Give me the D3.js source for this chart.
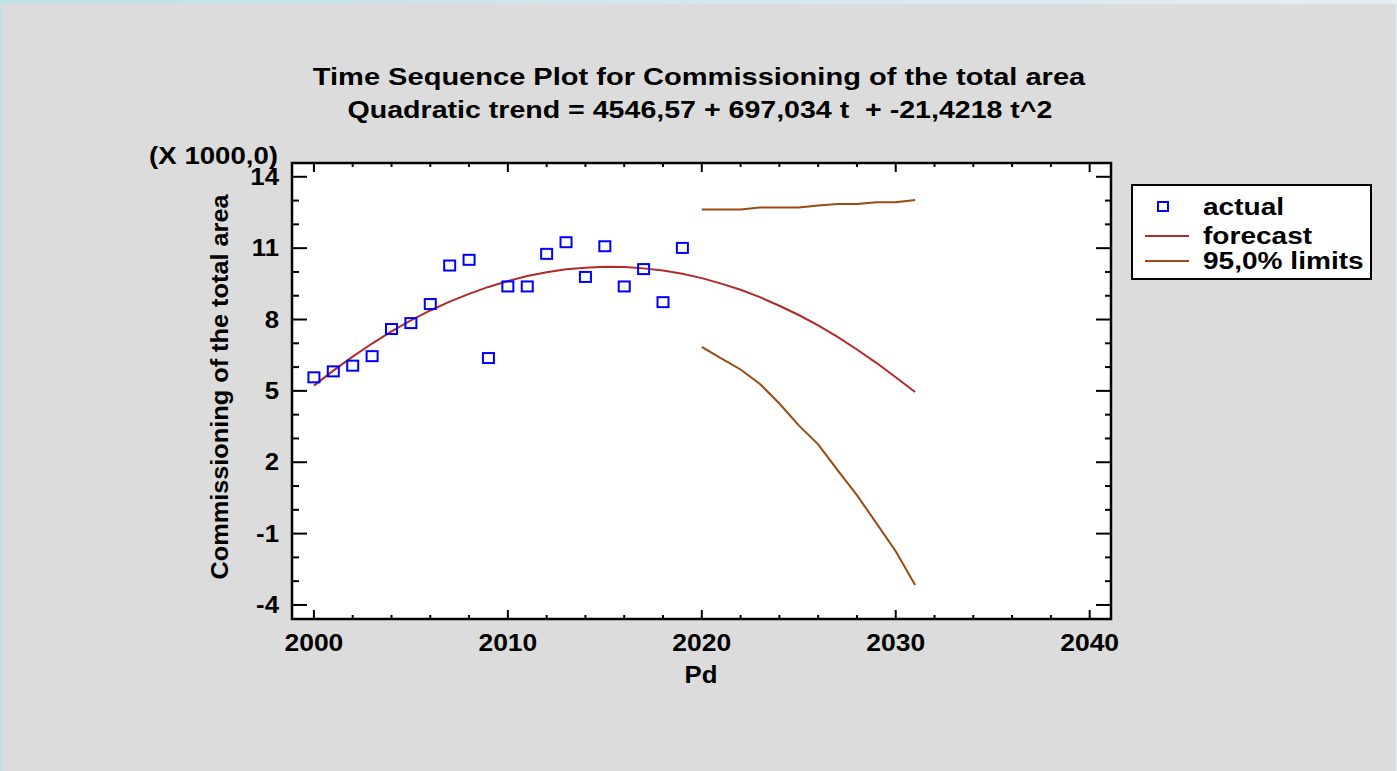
<!DOCTYPE html>
<html>
<head>
<meta charset="utf-8">
<script src="https://cdn.jsdelivr.net/npm/d3@7"></script>
<style>
    html, body { margin: 0; padding: 0; background: #dcdcdc; }
    svg { display: block; font-family: "Liberation Sans", Arial, sans-serif; font-weight: bold; }
</style>
</head>
<body>
<div id="chart"></div>
<script>
// values in thousands (X 1000,0)
const actualYears = d3.range(2000, 2020);
const actualValues = [5.57, 5.82, 6.06, 6.46, 7.60, 7.85, 8.65, 10.27, 10.51, 6.38,
                      9.39, 9.39, 10.76, 11.25, 9.79, 11.08, 9.39, 10.12, 8.73, 11.01];

const forecastYears = d3.range(2000, 2032);
const forecastValues = [5.22, 5.85, 6.44, 6.99, 7.50, 7.96, 8.38, 8.75, 9.08, 9.37,
                        9.62, 9.83, 9.99, 10.11, 10.18, 10.22, 10.21, 10.15, 10.06, 9.92,
                        9.74, 9.51, 9.25, 8.94, 8.58, 8.19, 7.75, 7.27, 6.74, 6.18,
                        5.57, 4.95];

const limitYears = d3.range(2020, 2032);
const upperValues = [12.63, 12.63, 12.63, 12.71, 12.71, 12.71, 12.79, 12.86, 12.86, 12.93, 12.93, 13.02];
const lowerValues = [6.85, 6.37, 5.90, 5.29, 4.47, 3.55, 2.75, 1.67, 0.62, -0.56, -1.74, -3.16];

const xTicks = [2000, 2010, 2020, 2030, 2040];
const yTicks = [-4, -1, 2, 5, 8, 11, 14];

const legendLabels = ['actual', 'forecast', '95,0% limits'];

const W = 1397, H = 771;
const plot = { left: 292, top: 163, right: 1111, bottom: 619 };

// the original renderer draws text wider than Liberation Sans, so stretch it
function stretch(sel, factor) {
    sel.each(function() {
        const len = this.getComputedTextLength();
        d3.select(this)
            .attr('textLength', len * factor)
            .attr('lengthAdjust', 'spacingAndGlyphs');
    });
}

const svg = d3.select('#chart').append('svg')
    .attr('width', W)
    .attr('height', H);

// background with light blue edge
const grad = svg.append('defs').append('linearGradient')
    .attr('id', 'edge').attr('x1', 0).attr('x2', 1);
grad.append('stop').attr('offset', 0).attr('stop-color', '#c3dfe8');
grad.append('stop').attr('offset', 1).attr('stop-color', '#e4eff4');
svg.append('rect').attr('width', W).attr('height', H).attr('fill', 'url(#edge)');
svg.append('rect').attr('x', 2).attr('y', 4).attr('width', W - 3).attr('height', H - 4).attr('fill', '#dcdcdc');

const x = d3.scaleLinear().domain([1998.87, 2041.1]).range([plot.left, plot.right]);
const y = d3.scaleLinear().domain([-4.59, 14.58]).range([plot.bottom, plot.top]);

// plot area
svg.append('rect')
    .attr('x', plot.left)
    .attr('y', plot.top)
    .attr('width', plot.right - plot.left)
    .attr('height', plot.bottom - plot.top)
    .attr('fill', '#ffffff');

const g = svg.append('g');

// lines
const line = d3.line().x(d => x(d[0])).y(d => y(d[1]));

g.append('path')
    .datum(forecastYears.map((yr, i) => [yr, forecastValues[i]]))
    .attr('d', line)
    .attr('fill', 'none')
    .attr('stroke', '#b02a2a')
    .attr('stroke-width', 2);

[upperValues, lowerValues].forEach(vals => {
    g.append('path')
        .datum(limitYears.map((yr, i) => [yr, vals[i]]))
        .attr('d', line)
        .attr('fill', 'none')
        .attr('stroke', '#9a4a12')
        .attr('stroke-width', 2);
});

// actual points
g.selectAll('.pt')
    .data(actualYears.map((yr, i) => [yr, actualValues[i]]))
    .enter()
    .append('rect')
    .attr('class', 'pt')
    .attr('x', d => x(d[0]) - 5.5)
    .attr('y', d => y(d[1]) - 5)
    .attr('width', 11)
    .attr('height', 10)
    .attr('fill', 'none')
    .attr('stroke', '#0000ff')
    .attr('stroke-width', 2);

// axes: ticks inside the frame
const axes = svg.append('g').attr('stroke', '#000');
const xMinor = d3.range(2000, 2042, 2).filter(v => v % 10 !== 0);
const yMinor = d3.range(-4, 15, 1).filter(v => (v + 4) % 3 !== 0);

xTicks.forEach(v => {
    axes.append('line').attr('x1', x(v)).attr('x2', x(v))
        .attr('y1', plot.bottom).attr('y2', plot.bottom - 9).attr('stroke-width', 2);
    axes.append('line').attr('x1', x(v)).attr('x2', x(v))
        .attr('y1', plot.top).attr('y2', plot.top + 9).attr('stroke-width', 2);
});
xMinor.forEach(v => {
    axes.append('line').attr('x1', x(v)).attr('x2', x(v))
        .attr('y1', plot.bottom).attr('y2', plot.bottom - 4).attr('stroke-width', 2);
    axes.append('line').attr('x1', x(v)).attr('x2', x(v))
        .attr('y1', plot.top).attr('y2', plot.top + 4).attr('stroke-width', 2);
});
yTicks.forEach(v => {
    axes.append('line').attr('x1', plot.left).attr('x2', plot.left + 15)
        .attr('y1', y(v)).attr('y2', y(v)).attr('stroke-width', 2);
    axes.append('line').attr('x1', plot.right).attr('x2', plot.right - 15)
        .attr('y1', y(v)).attr('y2', y(v)).attr('stroke-width', 2);
});
yMinor.forEach(v => {
    axes.append('line').attr('x1', plot.left).attr('x2', plot.left + 7)
        .attr('y1', y(v)).attr('y2', y(v)).attr('stroke-width', 2);
    axes.append('line').attr('x1', plot.right).attr('x2', plot.right - 6)
        .attr('y1', y(v)).attr('y2', y(v)).attr('stroke-width', 2);
});

// frame
svg.append('rect')
    .attr('x', plot.left)
    .attr('y', plot.top)
    .attr('width', plot.right - plot.left)
    .attr('height', plot.bottom - plot.top)
    .attr('fill', 'none')
    .attr('stroke', '#000')
    .attr('stroke-width', 2.5);

// tick labels
svg.selectAll('.xl')
    .data(xTicks)
    .enter()
    .append('text')
    .attr('class', 'xl')
    .attr('x', d => x(d))
    .attr('y', 651)
    .attr('text-anchor', 'middle')
    .attr('font-size', 23)
    .text(d => d)
    .call(stretch, 1.15);

svg.selectAll('.yl')
    .data(yTicks)
    .enter()
    .append('text')
    .attr('class', 'yl')
    .attr('x', 279)
    .attr('y', d => y(d) + 8)
    .attr('text-anchor', 'end')
    .attr('font-size', 23)
    .text(d => d)
    .call(stretch, 1.12);

svg.append('text')
    .attr('x', 278).attr('y', 164)
    .attr('text-anchor', 'end')
    .attr('font-size', 23)
    .text('(X 1000,0)')
    .call(stretch, 1.2);

// axis titles
svg.append('text')
    .attr('x', 701).attr('y', 683)
    .attr('text-anchor', 'middle')
    .attr('font-size', 23)
    .text('Pd')
    .call(stretch, 1.12);

svg.append('text')
    .attr('transform', 'translate(228, 387) rotate(-90)')
    .attr('text-anchor', 'middle')
    .attr('font-size', 23)
    .text('Commissioning of the total area')
    .call(stretch, 1.1);

// titles
svg.append('text')
    .attr('x', 699).attr('y', 85)
    .attr('text-anchor', 'middle')
    .attr('font-size', 24)
    .text('Time Sequence Plot for Commissioning of the total area')
    .call(stretch, 1.21);

svg.append('text')
    .attr('x', 700).attr('y', 118)
    .attr('text-anchor', 'middle')
    .attr('font-size', 24)
    .style('white-space', 'pre')
    .text('Quadratic trend = 4546,57 + 697,034 t  + -21,4218 t^2')
    .call(stretch, 1.19);

// legend
const legend = svg.append('g');
legend.append('rect')
    .attr('x', 1132).attr('y', 185)
    .attr('width', 239).attr('height', 94)
    .attr('fill', '#ffffff')
    .attr('stroke', '#000')
    .attr('stroke-width', 2);

const legendY = [207, 236, 261];
legend.append('rect')
    .attr('x', 1158).attr('y', legendY[0] - 5)
    .attr('width', 10).attr('height', 9)
    .attr('fill', 'none').attr('stroke', '#0000ff').attr('stroke-width', 2);
legend.append('line')
    .attr('x1', 1145).attr('x2', 1189)
    .attr('y1', legendY[1]).attr('y2', legendY[1])
    .attr('stroke', '#b02a2a').attr('stroke-width', 2);
legend.append('line')
    .attr('x1', 1145).attr('x2', 1189)
    .attr('y1', legendY[2]).attr('y2', legendY[2])
    .attr('stroke', '#9a4a12').attr('stroke-width', 2);

legend.selectAll('.lt')
    .data(legendLabels)
    .enter()
    .append('text')
    .attr('class', 'lt')
    .attr('x', 1203)
    .attr('y', (d, i) => legendY[i] + 8)
    .attr('font-size', 23)
    .text(d => d)
    .call(stretch, 1.22);
</script>
</body>
</html>
